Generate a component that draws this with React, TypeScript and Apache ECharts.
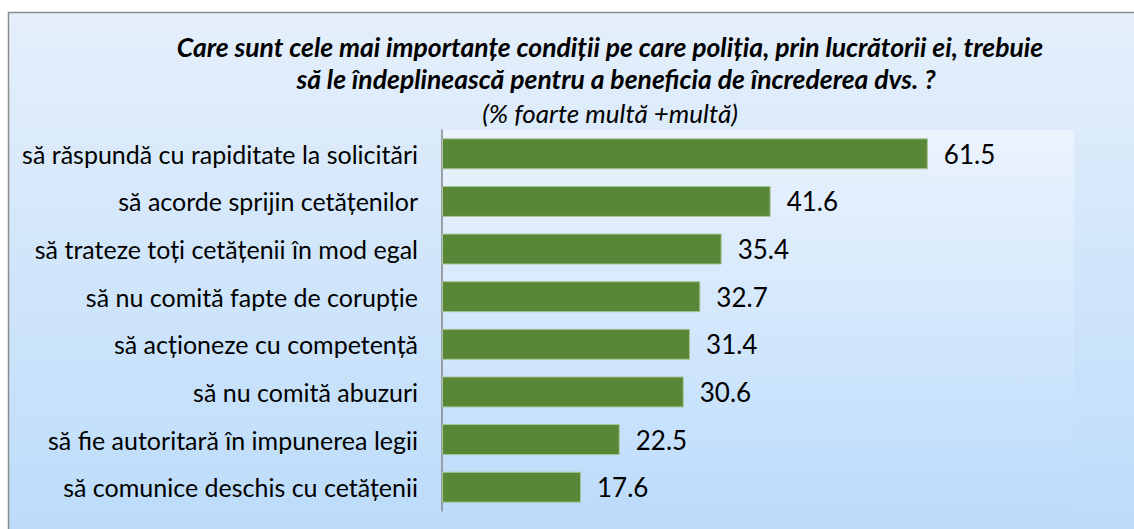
import React, { useEffect, useRef } from "react";
import * as echarts from "echarts";

const categories = [
  "să răspundă cu rapiditate la solicitări",
  "să acorde sprijin cetățenilor",
  "să trateze toți cetățenii în mod egal",
  "să nu comită fapte de corupție",
  "să acționeze cu competență",
  "să nu comită abuzuri",
  "să fie autoritară în impunerea legii",
  "să comunice deschis cu cetățenii",
];
const values = [61.5, 41.6, 35.4, 32.7, 31.4, 30.6, 22.5, 17.6];
const titleLines = [
  "Care sunt cele mai importanțe condiții pe care poliția, prin lucrătorii ei, trebuie",
  "să le îndeplinească pentru a beneficia de încrederea dvs. ?",
];
const subtitle = "(% foarte multă +multă)";

const FONT = "Lato, 'Open Sans', sans-serif";

export default function App() {
  const ref = useRef<HTMLDivElement>(null);
  useEffect(() => {
    if (!ref.current) return;
    const chart = echarts.init(ref.current, undefined, { renderer: "svg" });
    chart.setOption({
      animation: false,
      backgroundColor: "#ffffff",
      graphic: [
        {
          type: "rect",
          z: -10,
          silent: true,
          shape: { x: 8.5, y: 12.5, width: 1200, height: 600 },
          style: {
            fill: new echarts.graphic.LinearGradient(0, 0, 0, 1, [
              { offset: 0, color: "#e5effb" },
              { offset: 0.86, color: "#bcdcfa" },
              { offset: 1, color: "#b4d6f9" },
            ]),
            stroke: "#8c8c8c",
            lineWidth: 1.5,
          },
        },
        {
          type: "text",
          x: 610,
          y: 47,
          style: {
            text: titleLines[0],
            align: "center",
            verticalAlign: "middle",
            fontFamily: FONT,
            fontSize: 26.5,
            fontWeight: "bold",
            fontStyle: "italic",
            fill: "#000000",
          },
        },
        {
          type: "text",
          x: 616,
          y: 79,
          style: {
            text: titleLines[1],
            align: "center",
            verticalAlign: "middle",
            fontFamily: FONT,
            fontSize: 26.5,
            fontWeight: "bold",
            fontStyle: "italic",
            fill: "#000000",
          },
        },
        {
          type: "text",
          x: 610,
          y: 113,
          style: {
            text: subtitle,
            align: "center",
            verticalAlign: "middle",
            fontFamily: FONT,
            fontSize: 26,
            fontStyle: "italic",
            fill: "#000000",
          },
        },
      ],
      grid: {
        left: 442,
        right: 60,
        top: 130,
        bottom: 18,
        show: true,
        borderWidth: 0,
        backgroundColor: new echarts.graphic.LinearGradient(0, 0, 0, 1, [
          { offset: 0, color: "#ebf3fd" },
          { offset: 1, color: "#bcdcfb" },
        ]),
      },
      xAxis: {
        type: "value",
        min: 0,
        max: 80,
        show: false,
        splitLine: { show: false },
      },
      yAxis: {
        type: "category",
        data: categories,
        inverse: true,
        axisLine: { show: true, lineStyle: { color: "#878787", width: 1.5 } },
        axisTick: { show: false },
        axisLabel: {
          margin: 24,
          fontFamily: FONT,
          fontSize: 25,
          color: "#000000",
        },
      },
      series: [
        {
          type: "bar",
          data: values,
          barCategoryGap: "35%",
          itemStyle: {
            color: "#578737",
            borderColor: "#a9c59a",
            borderWidth: 1,
          },
          label: {
            show: true,
            position: "right",
            distance: 16,
            fontFamily: FONT,
            fontSize: 26,
            color: "#000000",
            formatter: (p: any) => p.value.toFixed(1),
          },
        },
      ],
    });
    return () => chart.dispose();
  }, []);
  return (
    <div
      ref={ref}
      style={{ position: "fixed", left: 0, top: 0, width: 1134, height: 529 }}
    />
  );
}
